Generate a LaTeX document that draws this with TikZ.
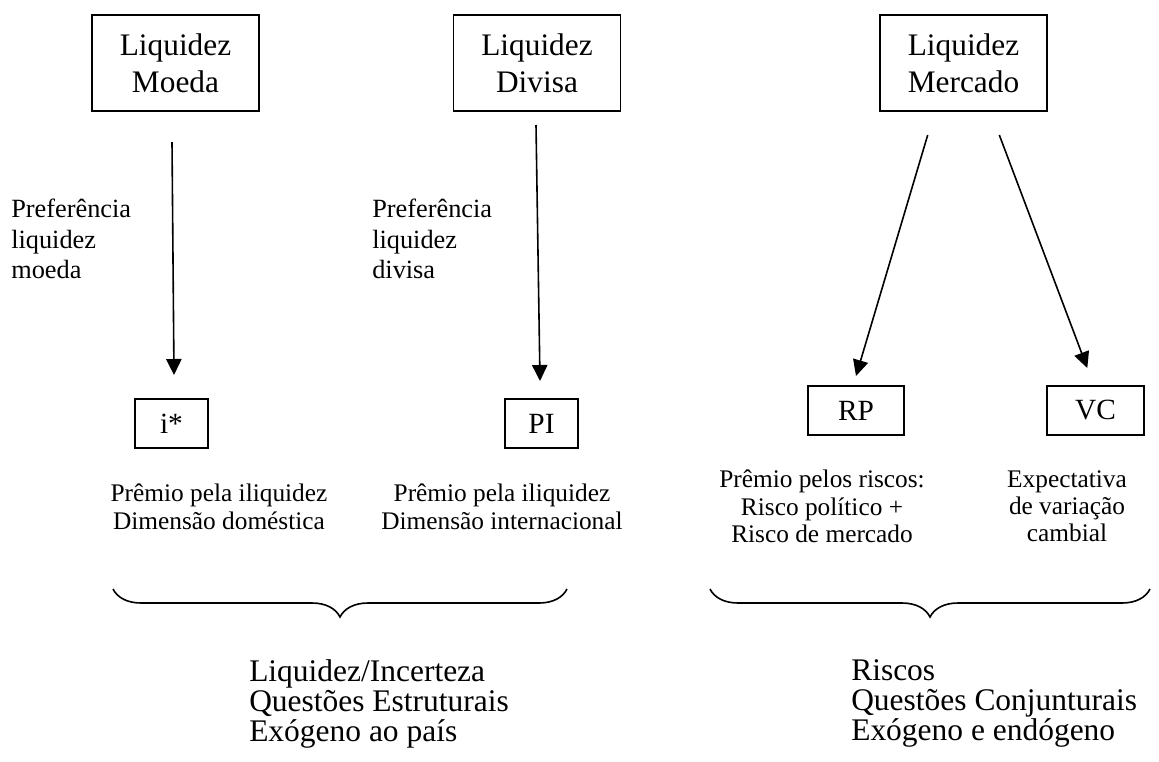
\documentclass[tikz,border=0pt]{standalone}
\usepackage{fontspec}
\setmainfont{Liberation Serif}
\usetikzlibrary{arrows.meta,decorations.pathreplacing}
\begin{document}
\begin{tikzpicture}[x=0.75pt,y=-0.75pt,
  bigbox/.style={draw,line width=1.2pt,minimum width=125.5pt,minimum height=72pt,inner sep=0pt,align=center,font=\fontsize{23.5pt}{27.5pt}\selectfont},
  smallbox/.style={draw,line width=1.2pt,minimum height=36.75pt,inner sep=0pt,font=\fontsize{22pt}{25pt}\selectfont},
  lbl/.style={inner sep=0pt,font=\fontsize{19.75pt}{22.9pt}\selectfont},
  desc/.style={inner sep=0pt,anchor=north,align=center,font=\fontsize{19pt}{20.5pt}\selectfont},
  bottomtxt/.style={inner sep=0pt,anchor=north west,align=left,font=\fontsize{23.6pt}{22.5pt}\selectfont},
  arr/.style={line width=1.2pt,-{Triangle[length=12pt,width=11.5pt]}},
  bracestyle/.style={line width=1.2pt,decorate,decoration={brace,mirror,amplitude=21pt}}]
\useasboundingbox (0,0) rectangle (1159,761);
% top boxes
\node[bigbox] (moeda) at (175.5,63) {Liquidez\\Moeda};
\node[bigbox] (divisa) at (537,63) {Liquidez\\Divisa};
\node[bigbox] (mercado) at (963.5,63) {Liquidez\\Mercado};
% small boxes
\node[smallbox,minimum width=54.75pt] (istar) at (171.5,423.5) {i*};
\node[smallbox,minimum width=54.75pt] (pi) at (541.5,423.5) {PI};
\node[smallbox,minimum width=72pt] (rp) at (856,410.5) {RP};
\node[smallbox,minimum width=72.75pt] (vc) at (1095.5,410.5) {VC};
% arrow end points
\coordinate (a1s) at (172,142);
\coordinate (a1e) at (174,375);
\coordinate (a2s) at (536,125);
\coordinate (a2e) at (540,381);
\coordinate (a3s) at (927.7,135);
\coordinate (a3e) at (856,376);
\coordinate (a4s) at (999.3,135);
\coordinate (a4e) at (1087.3,368);
\draw[arr] (a1s) -- (a1e);
\draw[arr] (a2s) -- (a2e);
\draw[arr] (a3s) -- (a3e);
\draw[arr] (a4s) -- (a4e);
% side labels
\node[lbl,anchor=north west,align=left] (pm) at (11,199) {Preferência\\liquidez\\moeda};
\node[lbl,anchor=north west,align=left] (pd) at (372,199) {Preferência\\liquidez\\divisa};
% descriptions
\node[desc] (di) at (219,484) {Prêmio pela iliquidez\\Dimensão doméstica};
\node[desc] (dp) at (502,484) {Prêmio pela iliquidez\\Dimensão internacional};
\node[desc] (dr) at (822,470) {Prêmio pelos riscos:\\Risco político +\\Risco de mercado};
\node[desc] (dv) at (1067,470) {Expectativa\\de variação\\cambial};
% braces
\coordinate (b1l) at (113,589);
\coordinate (b1r) at (567,589);
\coordinate (b2l) at (710,589);
\coordinate (b2r) at (1150,589);
\draw[bracestyle] (b1l) -- (b1r);
\draw[bracestyle] (b2l) -- (b2r);
% bottom texts
\node[bottomtxt] (bl) at (249,659) {Liquidez/Incerteza\\Questões Estruturais\\Exógeno ao país};
\node[bottomtxt] (br) at (851,659) {Riscos\\Questões Conjunturais\\Exógeno e endógeno};
\end{tikzpicture}
\end{document}
